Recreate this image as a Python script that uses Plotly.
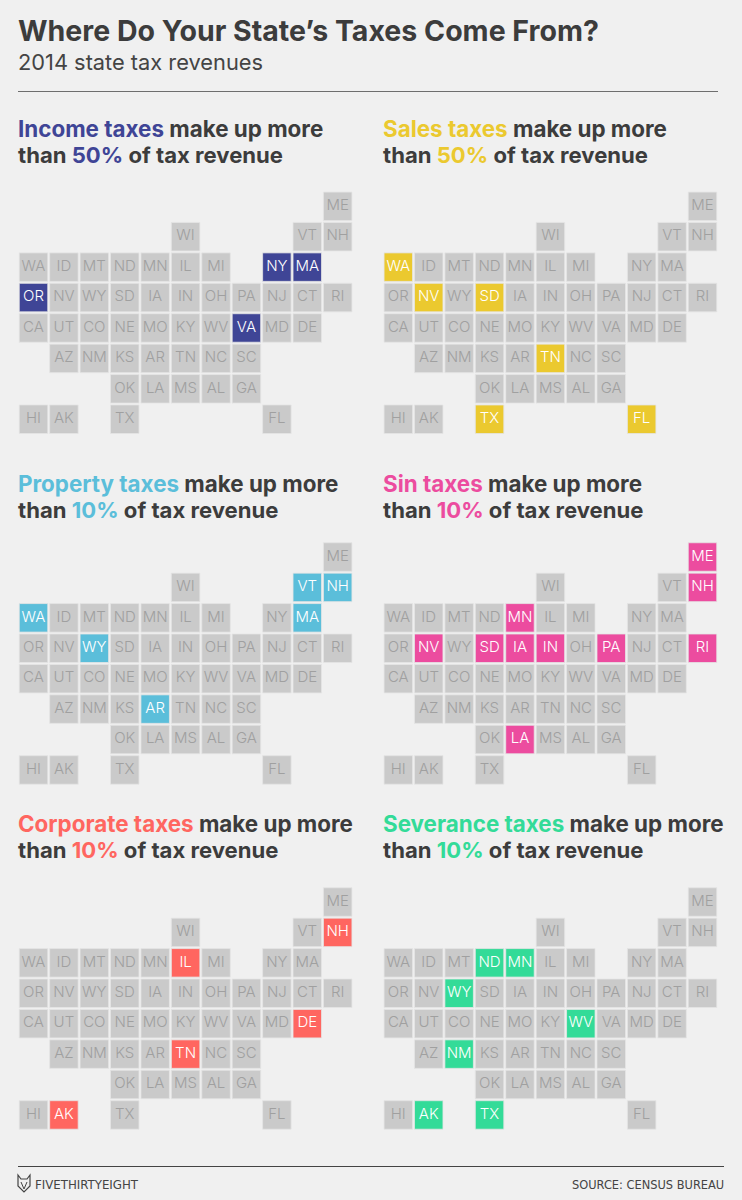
import plotly.graph_objects as go

BG = "#F0F0F0"
GREY = "#CACACA"
GREY_TEXT = "#A0A0A0"
DARK = "#3C3C3C"

ROW_0 = [("ME", 10)]
ROW_1 = [("WI", 5), ("VT", 9), ("NH", 10)]
ROW_2 = [("WA", 0), ("ID", 1), ("MT", 2), ("ND", 3), ("MN", 4), ("IL", 5), ("MI", 6), ("NY", 8), ("MA", 9)]
ROW_3 = [("OR", 0), ("NV", 1), ("WY", 2), ("SD", 3), ("IA", 4), ("IN", 5), ("OH", 6), ("PA", 7), ("NJ", 8), ("CT", 9), ("RI", 10)]
ROW_4 = [("CA", 0), ("UT", 1), ("CO", 2), ("NE", 3), ("MO", 4), ("KY", 5), ("WV", 6), ("VA", 7), ("MD", 8), ("DE", 9)]
ROW_5 = [("AZ", 1), ("NM", 2), ("KS", 3), ("AR", 4), ("TN", 5), ("NC", 6), ("SC", 7)]
ROW_6 = [("OK", 3), ("LA", 4), ("MS", 5), ("AL", 6), ("GA", 7)]
ROW_7 = [("HI", 0), ("AK", 1), ("TX", 3), ("FL", 8)]
ROWS = [ROW_0, ROW_1, ROW_2, ROW_3, ROW_4, ROW_5, ROW_6, ROW_7]

INCOME = ["NY", "MA", "OR", "VA"]
SALES = ["WA", "NV", "SD", "TN", "TX", "FL"]
PROPERTY = ["VT", "NH", "WA", "MA", "WY", "AR"]
SIN = ["ME", "NH", "MN", "NV", "SD", "IA", "IN", "PA", "RI", "LA"]
CORPORATE = ["NH", "IL", "DE", "TN", "AK"]
SEVERANCE = ["ND", "MN", "WY", "WV", "NM", "AK", "TX"]

PANELS = [
    ("Income taxes", "50%", "#3F4596", INCOME, 0, 0),
    ("Sales taxes", "50%", "#EBC92F", SALES, 1, 0),
    ("Property taxes", "10%", "#5BBEDA", PROPERTY, 0, 1),
    ("Sin taxes", "10%", "#EC4C9F", SIN, 1, 1),
    ("Corporate taxes", "10%", "#FF6660", CORPORATE, 0, 2),
    ("Severance taxes", "10%", "#33DB98", SEVERANCE, 1, 2),
]

W, H = 742, 1200
PITCH = 30.42
COL_CX = [33.5, 398.3]
ROW_CY = [206.3, 557.0, 902.0]
HEAD_Y = [128.5, 483.5, 823.5]
FONT = "Inter"
NARROW = "DejaVu Sans Condensed, DejaVu Sans, sans-serif"

fig = go.Figure()
layout = {}
annotations = []

def px(x):
    return x / W

def py(y):
    return 1 - y / H

def text(x, y, s, size, color=DARK, weight=400, family=FONT, anchor="left"):
    annotations.append(dict(
        x=px(x), y=py(y), xref="paper", yref="paper", text=s, showarrow=False,
        xanchor=anchor, yanchor="middle", align=anchor,
        xshift=-2 if anchor == "left" else 2,
        font=dict(family=family, size=size, color=color, weight=weight),
    ))

for i, (name, pct, color, states, col, row) in enumerate(PANELS, start=1):
    xs, ys, labels, fills, inks = [], [], [], [], []
    for r, items in enumerate(ROWS):
        for st, c in items:
            on = st in states
            xs.append(c)
            ys.append(r)
            labels.append(st)
            fills.append(color if on else GREY)
            inks.append("#FFFFFF" if on else GREY_TEXT)
    fig.add_trace(go.Scatter(
        x=xs, y=ys, text=labels, mode="markers+text", textposition="middle center",
        marker=dict(symbol="square", size=28.5, color=fills, line=dict(width=0.8, color="#E4E4E4")),
        textfont=dict(family=FONT, size=15, color=inks, weight=300),
        xaxis=f"x{i}", yaxis=f"y{i}", showlegend=False, hoverinfo="text", cliponaxis=False,
    ))
    left = COL_CX[col] - PITCH / 2
    top = ROW_CY[row] - PITCH / 2
    layout[f"xaxis{i}"] = dict(domain=[px(left), px(left + 11 * PITCH)], range=[-0.5, 10.5], visible=False, fixedrange=True)
    layout[f"yaxis{i}"] = dict(domain=[py(top + 8 * PITCH), py(top)], range=[7.5, -0.5], visible=False, fixedrange=True)
    hx = COL_CX[col] - 15.3
    hy = HEAD_Y[row]
    text(hx, hy, f'<span style="color:{color}">{name}</span> make up more', 22.4, weight=700)
    text(hx, hy + 26, f'than <span style="color:{color}">{pct}</span> of tax revenue', 22.1, weight=700)

text(18, 30, "Where Do Your State\u2019s Taxes Come From?", 28.5, weight=700)
text(18, 62, "2014 state tax revenues", 21.8, color="#444444", weight=400)
text(35, 1184, "FIVETHIRTYEIGHT", 13.1, color="#444444", family=NARROW)
text(723.5, 1184, "SOURCE: CENSUS BUREAU", 12.7, color="#444444", family=NARROW, anchor="right")

fox = [(18, 1175), (21, 1179), (27, 1179), (30, 1175), (30, 1186), (24, 1192), (18, 1186)]
fox_path = "M " + " L ".join(f"{px(a)} {py(b)}" for a, b in fox) + " Z"
inner = [(21, 1182), (24, 1189), (27, 1182)]
inner_path = "M " + " L ".join(f"{px(a)} {py(b)}" for a, b in inner)

shapes = [
    dict(type="line", xref="paper", yref="paper", x0=px(18), x1=px(718), y0=py(91.5), y1=py(91.5), line=dict(color="#6E6E6E", width=1.2)),
    dict(type="line", xref="paper", yref="paper", x0=px(18), x1=px(724), y0=py(1166.5), y1=py(1166.5), line=dict(color="#444444", width=1.2)),
    dict(type="path", xref="paper", yref="paper", path=fox_path, line=dict(color="#444444", width=1.2)),
    dict(type="path", xref="paper", yref="paper", path=inner_path, line=dict(color="#444444", width=1)),
]

fig.update_layout(
    width=W, height=H, margin=dict(l=0, r=0, t=0, b=0),
    paper_bgcolor=BG, plot_bgcolor=BG, showlegend=False,
    annotations=annotations, shapes=shapes, **layout,
)
fig.write_html("out.html", config={"displayModeBar": False},
               post_script="document.body.style.margin='0';document.body.style.background='#F0F0F0';")
